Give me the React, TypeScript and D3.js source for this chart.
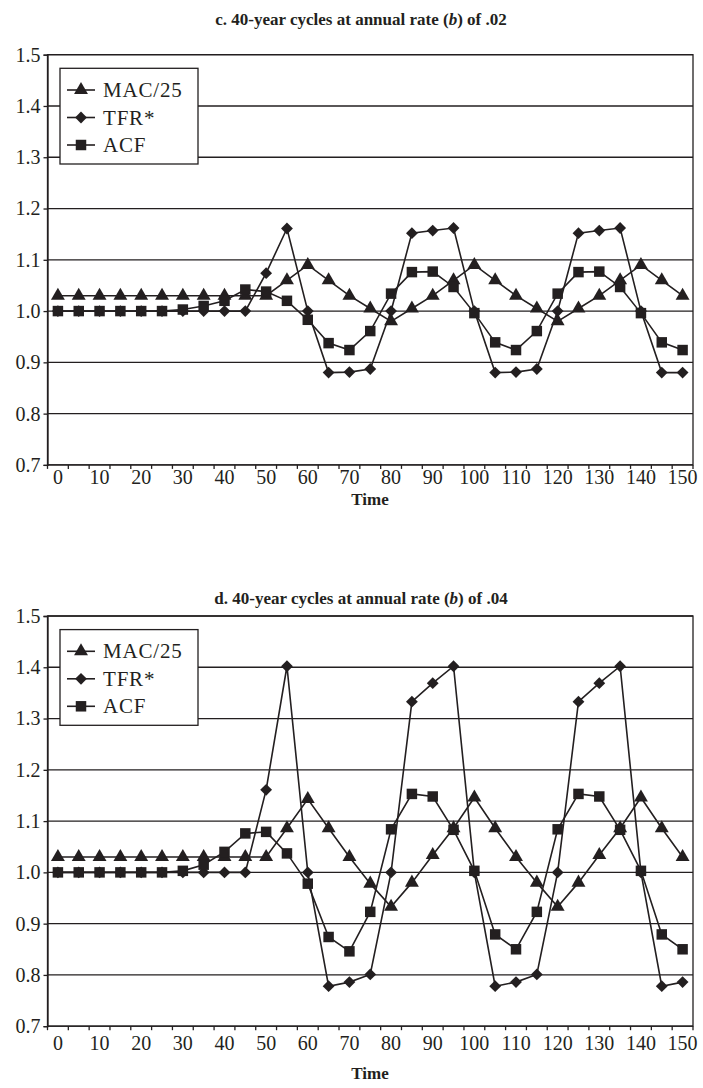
import React from 'react';
import * as d3 from 'd3';

// time points on the category axis
const times = [0, 5, 10, 15, 20, 25, 30, 35, 40, 45, 50, 55, 60, 65, 70, 75, 80, 85, 90, 95, 100, 105, 110, 115, 120, 125, 130, 135, 140, 145, 150];
const x_labels = ['0', '10', '20', '30', '40', '50', '60', '70', '80', '90', '100', '110', '120', '130', '140', '150'];
const y_ticks = [0.7, 0.8, 0.9, 1.0, 1.1, 1.2, 1.3, 1.4, 1.5];
const series_names = ['MAC/25', 'TFR*', 'ACF'];

// panel c (b = .02)
const mac_c = [1.03, 1.03, 1.03, 1.03, 1.03, 1.03, 1.03, 1.03, 1.03, 1.03, 1.03, 1.06, 1.09, 1.06, 1.03, 1.005, 0.98, 1.005, 1.03, 1.06, 1.09, 1.06, 1.03, 1.005, 0.98, 1.005, 1.03, 1.06, 1.09, 1.06, 1.03];
const tfr_c = [1, 1, 1, 1, 1, 1, 1, 1, 1, 1, 1.074, 1.161, 1.0, 0.88, 0.881, 0.887, 1.0, 1.152, 1.157, 1.162, 1.0, 0.88, 0.881, 0.887, 1.0, 1.152, 1.157, 1.162, 1.0, 0.88, 0.88];
const acf_c = [1, 1, 1, 1, 1, 1, 1.003, 1.01, 1.02, 1.042, 1.038, 1.02, 0.983, 0.9375, 0.924, 0.961, 1.034, 1.076, 1.077, 1.047, 0.996, 0.939, 0.924, 0.961, 1.034, 1.076, 1.077, 1.047, 0.996, 0.939, 0.924];

// panel d (b = .04)
const mac_d = [1.03, 1.03, 1.03, 1.03, 1.03, 1.03, 1.03, 1.03, 1.03, 1.03, 1.03, 1.086, 1.143, 1.086, 1.03, 0.978, 0.933, 0.98, 1.034, 1.086, 1.146, 1.086, 1.03, 0.98, 0.933, 0.98, 1.034, 1.086, 1.146, 1.086, 1.03];
const tfr_d = [1, 1, 1, 1, 1, 1, 1, 1, 1, 1, 1.161, 1.402, 1.0, 0.778, 0.786, 0.801, 1.0, 1.333, 1.369, 1.402, 1.0, 0.778, 0.786, 0.801, 1.0, 1.333, 1.369, 1.402, 1.0, 0.778, 0.786];
const acf_d = [1, 1, 1, 1, 1, 1, 1.003, 1.015, 1.04, 1.076, 1.079, 1.037, 0.978, 0.874, 0.846, 0.923, 1.084, 1.153, 1.148, 1.083, 1.003, 0.879, 0.85, 0.923, 1.084, 1.153, 1.148, 1.083, 1.003, 0.879, 0.85];

const INK = '#231f20';
const FONT = '"Liberation Serif", "Times New Roman", serif';

class App extends React.Component {
  myRef: any;
  constructor(props) {
    super(props);
    this.myRef = React.createRef();
    this.draw = this.draw.bind(this);
    this.draw_panel = this.draw_panel.bind(this);
    this.draw_marker = this.draw_marker.bind(this);
  }

  componentDidMount() {
    this.draw();
  }

  // 0 = triangle, 1 = diamond (rotated square), 2 = square
  draw_marker(sel, kind) {
    if (kind === 0) {
      sel.attr('d', d3.symbol(d3.symbolTriangle, 84)());
    } else if (kind === 1) {
      sel.attr('d', d3.symbol(d3.symbolSquare, 70)());
    } else {
      sel.attr('d', d3.symbol(d3.symbolSquare, 110)());
    }
  }

  draw_panel(svg, oy, label, rate, data, title_dy, label_dy, time_dy) {
    const left = 47.5, right = 693, top = 54.7, bottom = 464.9;
    const g = svg.append('g').attr('transform', `translate(0,${oy})`);

    const x = d3.scaleBand().domain(times.map(String)).range([left, right]).padding(0);
    const cx = t => x(String(t)) + x.bandwidth() / 2;
    const y = d3.scaleLinear().domain([0.7, 1.5]).range([bottom, top]);

    // title
    const title = g.append('text')
      .attr('x', 361).attr('y', top - title_dy)
      .attr('text-anchor', 'middle')
      .style('font-family', FONT).style('font-size', '17px').style('font-weight', 'bold')
      .attr('fill', INK);
    title.append('tspan').text(`${label}. 40-year cycles at annual rate (`);
    title.append('tspan').style('font-style', 'italic').text('b');
    title.append('tspan').text(`) of ${rate}`);

    // gridlines
    g.append('g').selectAll('line').data(y_ticks).join('line')
      .attr('x1', left).attr('x2', right)
      .attr('y1', d => y(d)).attr('y2', d => y(d))
      .attr('stroke', INK).attr('stroke-width', 1.3);

    // frame
    g.append('rect').attr('x', left).attr('y', top)
      .attr('width', right - left).attr('height', bottom - top)
      .attr('fill', 'none').attr('stroke', INK).attr('stroke-width', 1.3);

    // y axis
    const y_axis = g.append('g').attr('transform', `translate(${left},0)`)
      .call(d3.axisLeft(y).tickValues(y_ticks).tickSize(4).tickPadding(3).tickFormat(d3.format('.1f')));
    y_axis.select('.domain').attr('stroke', INK).attr('stroke-width', 1.3);
    y_axis.selectAll('line').attr('stroke', INK).attr('stroke-width', 1.3);
    y_axis.selectAll('text').style('font-family', FONT).style('font-size', '20px').attr('fill', INK);

    // x axis: ticks at category boundaries, labels every other category
    const bounds = times.map(t => x(String(t))).concat([right]);
    g.append('g').selectAll('line').data(bounds).join('line')
      .attr('x1', d => d).attr('x2', d => d)
      .attr('y1', bottom).attr('y2', bottom + 4)
      .attr('stroke', INK).attr('stroke-width', 1.3);
    g.append('g').selectAll('text').data(x_labels).join('text')
      .attr('x', d => cx(+d)).attr('y', bottom + label_dy)
      .attr('text-anchor', 'middle')
      .style('font-family', FONT).style('font-size', '20px').attr('fill', INK)
      .text(d => d);

    g.append('text').attr('x', 370).attr('y', bottom + time_dy)
      .attr('text-anchor', 'middle')
      .style('font-family', FONT).style('font-size', '17px').style('font-weight', 'bold')
      .attr('fill', INK).text('Time');

    // series
    const line = d3.line().x((d, i) => cx(times[i])).y(d => y(d));
    data.forEach((vals, k) => {
      g.append('path').datum(vals).attr('d', line)
        .attr('fill', 'none').attr('stroke', INK).attr('stroke-width', 1.6);
      const m = g.append('g').selectAll('path').data(vals).join('path')
        .attr('fill', INK);
      this.draw_marker(m, k);
      m.attr('transform', (d, i) => `translate(${cx(times[i])},${y(d)})` + (k === 1 ? ' rotate(45)' : ''));
    });

    // legend
    const lg = g.append('g');
    lg.append('rect').attr('x', 60).attr('y', 68.3)
      .attr('width', 138).attr('height', 95.7)
      .attr('fill', 'white').attr('stroke', INK).attr('stroke-width', 1.3);
    series_names.forEach((name, k) => {
      const ly = 90 + k * 27.5;
      lg.append('line').attr('x1', 67).attr('x2', 95).attr('y1', ly).attr('y2', ly)
        .attr('stroke', INK).attr('stroke-width', 1.6);
      const m = lg.append('path').attr('fill', INK);
      this.draw_marker(m, k);
      m.attr('transform', `translate(81,${ly})` + (k === 1 ? ' rotate(45)' : ''));
      lg.append('text').attr('x', 103).attr('y', ly + 7)
        .style('font-family', FONT).style('font-size', '21px').style('letter-spacing', '0.8px')
        .attr('fill', INK)
        .text(name);
    });
  }

  draw() {
    const svg = d3.select(this.myRef.current)
      .append('svg')
      .attr('width', 703)
      .attr('height', 1088)
      .style('position', 'absolute')
      .style('left', 0)
      .style('top', 0)
      .style('background', 'white');
    this.draw_panel(svg, 0, 'c', '.02', [mac_c, tfr_c, acf_c], 30, 19, 40);
    this.draw_panel(svg, 561.3, 'd', '.04', [mac_d, tfr_d, acf_d], 12, 24, 53);
  }

  render() {
    return <div ref={this.myRef}></div>;
  }
}

export default App;
